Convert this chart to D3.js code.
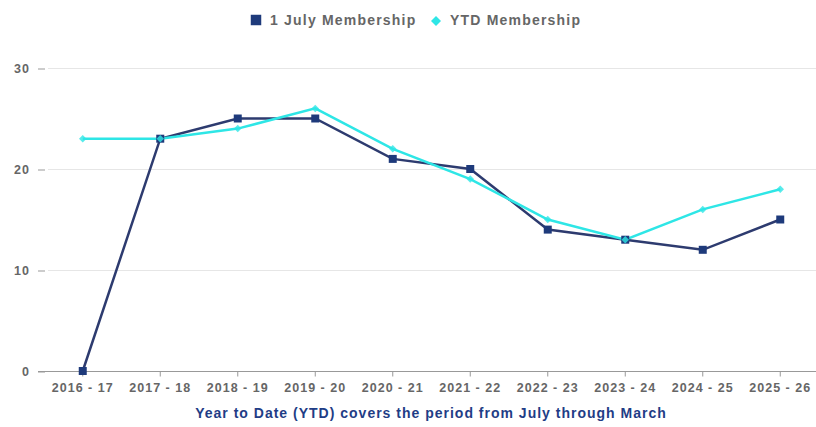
<!DOCTYPE html>
<html>
<head>
<meta charset="utf-8">
<script src="https://cdn.jsdelivr.net/npm/d3@7"></script>
<style>
  body { margin: 0; background: #fff; }
  text { font-family: "Liberation Sans", Arial, sans-serif; }
</style>
</head>
<body>
<svg id="chart" width="816" height="427"></svg>
<script>
// data
var seasons = ["2016 - 17", "2017 - 18", "2018 - 19", "2019 - 20", "2020 - 21",
               "2021 - 22", "2022 - 23", "2023 - 24", "2024 - 25", "2025 - 26"];
var julyMembership = [0, 23, 25, 25, 21, 20, 14, 13, 12, 15];
var ytdMembership  = [23, 23, 24, 26, 22, 19, 15, 13, 16, 18];
var yTicks = [0, 10, 20, 30];

var svg = d3.select("#chart");
var plotLeft = 44, plotRight = 819, plotTop = 68, plotBottom = 371;

var x = d3.scaleBand().domain(seasons).range([plotLeft, plotRight]);
var y = d3.scaleLinear().domain([0, 30]).range([plotBottom, plotTop]);
function cx(s) { return x(s) + x.bandwidth() / 2; }

/**
Grid + y axis
*/
var grid = svg.append("g");
grid.selectAll("line").data(yTicks.filter(function(d){ return d > 0; }))
  .enter().append("line")
  .attr("x1", 48).attr("x2", 816)
  .attr("y1", function(d){ return y(d) + 0.5; })
  .attr("y2", function(d){ return y(d) + 0.5; })
  .style("stroke", "#e6e6e6").style("stroke-width", "1px");

var yAxis = svg.append("g").attr("transform", "translate(45,0.5)")
  .call(d3.axisLeft(y).tickValues(yTicks).tickSize(7).tickPadding(8));
yAxis.select(".domain").remove();
yAxis.selectAll("line").style("stroke", "#999");
yAxis.selectAll("text").style("fill", "#666").style("font-weight", "bold")
  .style("font-size", "12.5px").style("letter-spacing", "1px")
  .style("font-family", "Liberation Sans, Arial, sans-serif");

/**
x axis
*/
var xAxis = svg.append("g").attr("transform", "translate(0," + (plotBottom + 0.5) + ")")
  .call(d3.axisBottom(x).tickSizeOuter(0).tickSize(5).tickPadding(7));
xAxis.select(".domain").attr("d", "M38,0H816").style("stroke", "#999");
xAxis.selectAll("line").style("stroke", "#999");
xAxis.selectAll("text").style("fill", "#666").style("font-weight", "bold")
  .style("font-size", "12.5px").style("letter-spacing", "1px")
  .style("font-family", "Liberation Sans, Arial, sans-serif");

svg.append("text")
  .attr("x", 431).attr("y", 418).attr("text-anchor", "middle")
  .style("fill", "#1f3d86").style("font-weight", "bold").style("font-size", "14px")
  .style("letter-spacing", "1px")
  .text("Year to Date (YTD) covers the period from July through March");

/**
Lines
*/
var line = d3.line()
  .x(function(d, i){ return cx(seasons[i]); })
  .y(function(d){ return y(d); });

svg.append("path").datum(julyMembership)
  .attr("d", line)
  .style("fill", "none").style("stroke", "#2d3b6f").style("stroke-width", "2.5px");

svg.append("path").datum(ytdMembership)
  .attr("d", line)
  .style("fill", "none").style("stroke", "#2ee6e6").style("stroke-width", "2.5px");

var sq = d3.symbol().type(d3.symbolSquare).size(64);
var dm = d3.symbol().type(d3.symbolSquare).size(28); // rotated below -> diamond

svg.append("g").selectAll("path").data(julyMembership).enter().append("path")
  .attr("d", sq)
  .attr("transform", function(d, i){ return "translate(" + cx(seasons[i]) + "," + y(d) + ")"; })
  .style("fill", "#1e3a7b");

svg.append("g").selectAll("path").data(ytdMembership).enter().append("path")
  .attr("d", dm)
  .attr("transform", function(d, i){ return "translate(" + cx(seasons[i]) + "," + y(d) + ") rotate(45)"; })
  .style("fill", "#2ee6e6").style("opacity", 0.8);

/**
Legend
*/
var legend = svg.append("g");
legend.append("path").attr("d", d3.symbol().type(d3.symbolSquare).size(110))
  .attr("transform", "translate(256,20)").style("fill", "#1e3a7b");
legend.append("text").attr("x", 270).attr("y", 25)
  .style("fill", "#666").style("font-weight", "bold").style("font-size", "14px")
  .style("letter-spacing", "1.2px")
  .text("1 July Membership");
legend.append("path").attr("d", d3.symbol().type(d3.symbolSquare).size(50))
  .attr("transform", "translate(436,21) rotate(45)").style("fill", "#2ee6e6");
legend.append("text").attr("x", 450).attr("y", 25)
  .style("fill", "#666").style("font-weight", "bold").style("font-size", "14px")
  .style("letter-spacing", "1.2px")
  .text("YTD Membership");
</script>
</body>
</html>
